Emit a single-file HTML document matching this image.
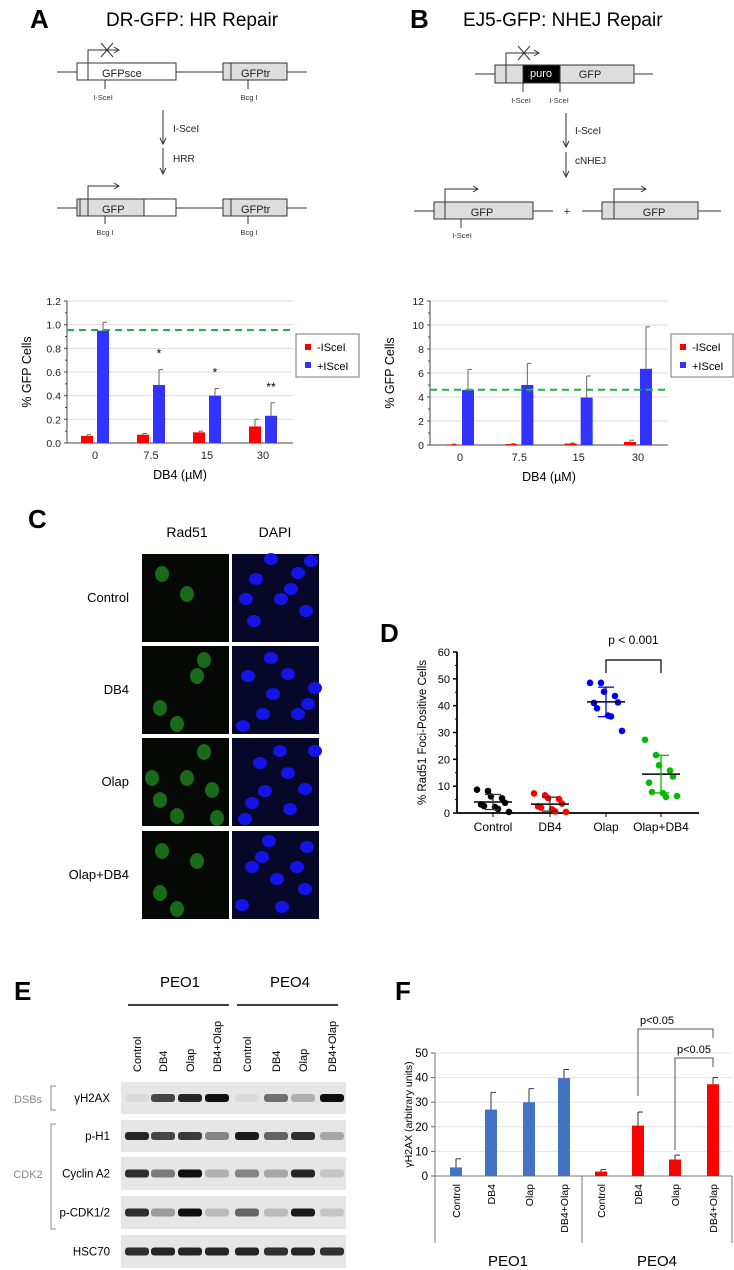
<!DOCTYPE html>
<html><head><meta charset="utf-8">
<style>
html,body{margin:0;padding:0;background:#fff;}
svg{display:block;font-family:"Liberation Sans",Arial,sans-serif;}
</style></head>
<body>
<svg id="fig" width="734" height="1270" viewBox="0 0 734 1270" xmlns="http://www.w3.org/2000/svg">
<!-- Panel A diagram -->
<g stroke="#333" fill="none" font-size="11">
<text x="30" y="28" font-size="26" font-weight="bold" fill="#000" stroke="none">A</text>
<text x="106" y="26" font-size="19" fill="#000" stroke="none">DR-GFP: HR Repair</text>
<line x1="57" y1="72" x2="307" y2="72"/>
<rect x="77" y="63" width="99" height="17" fill="#fff"/>
<line x1="88" y1="63" x2="88" y2="80"/>
<polyline points="88,63 88,50 118,50"/><polyline points="114,47 119,50 114,53"/>
<line x1="101" y1="43" x2="113" y2="57"/><line x1="113" y1="43" x2="101" y2="57"/>
<text x="102" y="77" fill="#222" stroke="none">GFPsce</text>
<line x1="105" y1="80" x2="105" y2="89"/><text x="103" y="100" font-size="7.5" text-anchor="middle" fill="#333" stroke="none">I-SceI</text>
<rect x="223" y="63" width="64" height="17" fill="#ddd"/>
<line x1="231" y1="63" x2="231" y2="80"/>
<text x="241" y="77" fill="#222" stroke="none">GFPtr</text>
<line x1="248" y1="80" x2="248" y2="89"/><text x="249" y="100" font-size="7.5" text-anchor="middle" fill="#333" stroke="none">Bcg I</text>
<line x1="163" y1="110" x2="163" y2="143"/><polyline points="160,138 163,144 166,138"/>
<text x="173" y="132" fill="#222" stroke="none" font-size="10">I-SceI</text>
<line x1="163" y1="148" x2="163" y2="173"/><polyline points="160,168 163,174 166,168"/>
<text x="173" y="162" fill="#222" stroke="none" font-size="10">HRR</text>
<line x1="57" y1="208" x2="307" y2="208"/>
<rect x="77" y="199" width="99" height="17" fill="#fff"/>
<rect x="77" y="199" width="67" height="17" fill="#ddd"/>
<line x1="80" y1="199" x2="80" y2="216"/><line x1="88" y1="199" x2="88" y2="216"/>
<polyline points="88,199 88,186 118,186"/><polyline points="114,183 119,186 114,189"/>
<text x="102" y="213" fill="#222" stroke="none">GFP</text>
<line x1="105" y1="216" x2="105" y2="224"/><text x="105" y="235" font-size="7.5" text-anchor="middle" fill="#333" stroke="none">Bcg I</text>
<rect x="223" y="199" width="64" height="17" fill="#ddd"/>
<line x1="231" y1="199" x2="231" y2="216"/>
<text x="241" y="213" fill="#222" stroke="none">GFPtr</text>
<line x1="248" y1="216" x2="248" y2="224"/><text x="249" y="235" font-size="7.5" text-anchor="middle" fill="#333" stroke="none">Bcg I</text>
</g>
<!-- Panel B diagram -->
<g stroke="#333" fill="none" font-size="11">
<text x="410" y="28" font-size="26" font-weight="bold" fill="#000" stroke="none">B</text>
<text x="463" y="26" font-size="19" fill="#000" stroke="none">EJ5-GFP: NHEJ Repair</text>
<line x1="475" y1="74" x2="653" y2="74"/>
<rect x="495" y="65" width="139" height="18" fill="#ddd"/>
<rect x="523" y="65" width="37" height="18" fill="#000"/>
<line x1="506" y1="65" x2="506" y2="83"/>
<polyline points="506,65 506,53 538,53"/><polyline points="534,50 539,53 534,56"/>
<line x1="518" y1="46" x2="530" y2="60"/><line x1="530" y1="46" x2="518" y2="60"/>
<text x="541" y="77" fill="#fff" stroke="none" text-anchor="middle">puro</text>
<text x="590" y="78" fill="#222" stroke="none" text-anchor="middle">GFP</text>
<line x1="523" y1="83" x2="523" y2="92"/><line x1="560" y1="83" x2="560" y2="92"/>
<text x="521" y="103" font-size="7.5" fill="#333" stroke="none" text-anchor="middle">I-SceI</text>
<text x="559" y="103" font-size="7.5" fill="#333" stroke="none" text-anchor="middle">I-SceI</text>
<line x1="566" y1="113" x2="566" y2="146"/><polyline points="563,141 566,147 569,141"/>
<text x="575" y="134" fill="#222" stroke="none" font-size="10">I-SceI</text>
<line x1="566" y1="152" x2="566" y2="176"/><polyline points="563,171 566,177 569,171"/>
<text x="575" y="164" fill="#222" stroke="none" font-size="10">cNHEJ</text>
<line x1="414" y1="211" x2="553" y2="211"/>
<rect x="434" y="202" width="99" height="17" fill="#ddd"/>
<line x1="445" y1="202" x2="445" y2="219"/>
<polyline points="445,202 445,189 477,189"/><polyline points="473,186 478,189 473,192"/>
<text x="482" y="216" fill="#222" stroke="none" text-anchor="middle">GFP</text>
<line x1="461" y1="219" x2="461" y2="228"/><text x="462" y="238" font-size="7.5" fill="#333" stroke="none" text-anchor="middle">I-SceI</text>
<text x="567" y="215" fill="#222" stroke="none" text-anchor="middle">+</text>
<line x1="582" y1="211" x2="721" y2="211"/>
<rect x="602" y="202" width="96" height="17" fill="#ddd"/>
<line x1="614" y1="202" x2="614" y2="219"/>
<polyline points="614,202 614,189 645,189"/><polyline points="641,186 646,189 641,192"/>
<text x="654" y="216" fill="#222" stroke="none" text-anchor="middle">GFP</text>
</g>
<g id="chartA"></g>
<g id="chartB"></g>
<!-- Panel C -->
<g id="panelC">
<text x="28" y="528" font-size="26" font-weight="bold">C</text>
<text x="187" y="537" font-size="14" text-anchor="middle">Rad51</text>
<text x="275" y="537" font-size="14" text-anchor="middle">DAPI</text>
</g>
<g id="chartD"></g>
<!-- Panel E -->
<g id="panelE">
<text x="14" y="1000" font-size="26" font-weight="bold">E</text>
<text x="180" y="987" font-size="15" text-anchor="middle">PEO1</text>
<text x="290" y="987" font-size="15" text-anchor="middle">PEO4</text>
<line x1="128" y1="1005" x2="229" y2="1005" stroke="#000" stroke-width="1.5"/>
<line x1="237" y1="1005" x2="338" y2="1005" stroke="#000" stroke-width="1.5"/>
<text x="28" y="1103" font-size="11" fill="#888" text-anchor="middle">DSBs</text>
<polyline points="56,1086 51,1086 51,1110 56,1110" stroke="#888" fill="none"/>
<text x="28" y="1178" font-size="11" fill="#888" text-anchor="middle">CDK2</text>
<polyline points="56,1124 51,1124 51,1229 56,1229" stroke="#888" fill="none"/>
</g>
<g id="chartF"></g>
</svg>
<script>
// ---------- DATA ----------
const aCats = ["0","7.5","15","30"];
const aMinus = [0.06,0.07,0.09,0.14];
const aMinusErr = [0.01,0.01,0.01,0.06];
const aPlus = [0.95,0.49,0.40,0.23];
const aPlusErr = [0.07,0.13,0.06,0.11];
const aStars = ["","*","*","**"];
const aTicks = ["0.0","0.2","0.4","0.6","0.8","1.0","1.2"];
const aRef = 0.955;

const bCats = ["0","7.5","15","30"];
const bMinus = [0.05,0.08,0.12,0.25];
const bMinusErr = [0.02,0.03,0.04,0.15];
const bPlus = [4.6,5.0,3.95,6.35];
const bPlusErr = [1.7,1.8,1.8,3.5];
const bTicks = ["0","2","4","6","8","10","12"];
const bRef = 4.6;

const dCats = ["Control","DB4","Olap","Olap+DB4"];
const dControl = [8.7,8.2,6.2,5.5,3.8,3.2,2.6,2.2,1.5,0.4];
const dDB4 = [7.3,6.6,5.6,5.2,3.5,2.5,2.0,1.4,0.6,0.4];
const dOlap = [48.5,48.5,45.2,43.6,41.2,41.0,39.0,36.3,36.0,30.6];
const dOlapDB4 = [27.3,21.6,17.8,15.8,13.6,11.3,7.8,7.4,6.0,6.3];
const dMeans = [4.1,3.3,41.4,14.5];
const dSD = [2.8,2.6,5.5,7.0];
const dTicks = ["0","10","20","30","40","50","60"];

const fCats = ["Control","DB4","Olap","DB4+Olap"];
const fPEO1 = [3.5,27,30,39.8];
const fPEO1Err = [3.5,7,5.5,3.5];
const fPEO4 = [1.8,20.5,6.7,37.3];
const fPEO4Err = [0.8,5.5,1.8,2.7];
const fTicks = ["0","10","20","30","40","50"];

const eLanes = ["Control","DB4","Olap","DB4+Olap","Control","DB4","Olap","DB4+Olap"];
const eRows = ["γH2AX","p-H1","Cyclin A2","p-CDK1/2","HSC70"];
const eBand = [
 [0.05,0.75,0.9,1.0,0.05,0.55,0.25,1.0],
 [0.9,0.75,0.8,0.45,0.95,0.6,0.85,0.3],
 [0.85,0.5,1.0,0.25,0.45,0.3,0.9,0.15],
 [0.85,0.35,1.0,0.2,0.6,0.2,0.95,0.15],
 [0.85,0.9,0.9,0.9,0.9,0.85,0.9,0.85]];

// ---------- HELPERS ----------
const NS="http://www.w3.org/2000/svg";
function mk(parent,tag,attrs,text){const e=document.createElementNS(NS,tag);for(const k in attrs)e.setAttribute(k,attrs[k]);if(text!==undefined)e.textContent=text;parent.appendChild(e);return e;}

// ---------- PANEL A & B ----------
function barChart(g,cfg){
  const {x0,x1,yTop,yBot,max,ticks,cats,cx,minus,minusErr,plus,plusErr,ref,stars,leg}=cfg;
  const ys=v=>yBot-(v/max)*(yBot-yTop);
  ticks.forEach((t,i)=>{const v=max*i/(ticks.length-1);const y=ys(v);
    if(i>0){const gl=mk(g,"line",{x1:x0,x2:x1,y1:y,y2:y,stroke:"#ddd"});}
    mk(g,"line",{x1:x0-3,x2:x0,y1:y,y2:y,stroke:"#444"});
    const tl=mk(g,"text",{x:x0-6,y:y+4,"font-size":10.5,"text-anchor":"end",fill:"#222"},t);
    
    if(i<ticks.length-1){const ym=ys(v+max/(ticks.length-1)/2);mk(g,"line",{x1:x0-2,x2:x0,y1:ym,y2:ym,stroke:"#444"});}
  });
  mk(g,"line",{x1:x0,x2:x0,y1:yTop,y2:yBot,stroke:"#444"});
  mk(g,"line",{x1:x0,x2:x1,y1:yBot,y2:yBot,stroke:"#444"});
  cats.forEach((c,i)=>{
    const c0=cx(i);
    [[minus,minusErr,-8,"#ff0000","bar-minus-iscei"],[plus,plusErr,8,"#3333ff","bar-plus-iscei"]].forEach(([vals,errs,off,col,nm])=>{
      const bx=c0+off-6,y=ys(vals[i]);
      mk(g,"line",{x1:c0+off,x2:c0+off,y1:y,y2:ys(vals[i]+errs[i]),stroke:"#666"});
      mk(g,"line",{x1:c0+off,x2:c0+off+4,y1:ys(vals[i]+errs[i]),y2:ys(vals[i]+errs[i]),stroke:"#666"});
      const r=mk(g,"rect",{x:bx,y:y,width:12,height:yBot-y,fill:col});
      
    });
    if(stars&&stars[i]){const s=mk(g,"text",{x:c0+8,y:ys(plus[i]+plusErr[i])-12,"font-size":12,"text-anchor":"middle"},stars[i]);}
    const xl=mk(g,"text",{x:c0,y:yBot+16,"font-size":11,"text-anchor":"middle",fill:"#222"},c);
    
  });
  const rl=mk(g,"line",{x1:x0,x2:x1,y1:ys(ref),y2:ys(ref),stroke:"#22b14c","stroke-width":2,"stroke-dasharray":"7,5"});
  
  const xt=mk(g,"text",{x:(x0+x1)/2,y:yBot+36,"font-size":12.5,"text-anchor":"middle"},"DB4 (µM)");
  
  const yt=mk(g,"text",{x:0,y:0,"font-size":12.5,"text-anchor":"middle",transform:`translate(${x0-36},${(yTop+yBot)/2}) rotate(-90)`},"% GFP Cells");
  
  const lg=mk(g,"g",{});
  mk(lg,"rect",{x:leg[0],y:leg[1],width:leg[2],height:43,fill:"#fff",stroke:"#777"});
  mk(lg,"rect",{x:leg[0]+9,y:leg[1]+10,width:6,height:6,fill:"#ff0000"});
  mk(lg,"text",{x:leg[0]+21,y:leg[1]+17,"font-size":11},"-ISceI");
  mk(lg,"rect",{x:leg[0]+9,y:leg[1]+28,width:6,height:6,fill:"#3333ff"});
  mk(lg,"text",{x:leg[0]+21,y:leg[1]+36,"font-size":11},"+ISceI");
}
barChart(document.getElementById("chartA"),{x0:67,x1:293,yTop:301,yBot:443,max:1.2,ticks:aTicks,cats:aCats,cx:i=>95+i*(263-95)/3,minus:aMinus,minusErr:aMinusErr,plus:aPlus,plusErr:aPlusErr,ref:aRef,stars:aStars,leg:[296,334,63]});
barChart(document.getElementById("chartB"),{x0:430,x1:668,yTop:301,yBot:445,max:12,ticks:bTicks,cats:bCats,cx:i=>460+i*(638-460)/3,minus:bMinus,minusErr:bMinusErr,plus:bPlus,plusErr:bPlusErr,ref:bRef,stars:null,leg:[671,334,62]});

// ---------- PANEL C ----------
(function(){
  const g=document.getElementById("panelC");
  const rows=["Control","DB4","Olap","Olap+DB4"];
  const rowY=[554,646,738,831];
  const greenCounts=[2,4,7,4];
  const nuc=[[20,20],[62,14],[45,40],[18,62],[70,52],[35,78],[75,80],[55,30],[10,40]];
  rows.forEach((r,i)=>{
    const y=rowY[i];
    const lb=mk(g,"text",{x:129,y:y+48,"font-size":13,"text-anchor":"end"},r);
    
    const rr=mk(g,"rect",{x:142,y:y,width:87,height:88,fill:"#050805"});
    
    for(let k=0;k<greenCounts[i];k++){const p=nuc[(k*2+i)%nuc.length];
      mk(g,"ellipse",{cx:142+p[0],cy:y+p[1],rx:7,ry:8,fill:"#1f8a1f",opacity:0.75});}
    const dr=mk(g,"rect",{x:232,y:y,width:87,height:88,fill:"#07072a"});
    
    nuc.forEach((p,k)=>{mk(g,"ellipse",{cx:232+((p[0]+i*17)%80)+4,cy:y+((p[1]+i*23)%78)+5,rx:7,ry:6,fill:"#1414e6"});});
  });
})();

// ---------- PANEL D ----------
(function(){
  const g=document.getElementById("chartD");
  const x0=457,x1=699,yT=652,yB=813,max=60;
  const ys=v=>yB-(v/max)*(yB-yT);
  const cx=[493,550,606,661];
  const cols=["#000000","#ff0000","#0000ee","#00bb00"];
  const series=[dControl,dDB4,dOlap,dOlapDB4];
  mk(g,"text",{x:380,y:642,"font-size":26,"font-weight":"bold"},"D");
  dTicks.forEach((t,i)=>{const v=i*10;const y=ys(v);
    mk(g,"line",{x1:x0-4,x2:x0,y1:y,y2:y,stroke:"#000","stroke-width":1.5});
    if(i<6)mk(g,"line",{x1:x0-2,x2:x0,y1:ys(v+5),y2:ys(v+5),stroke:"#000"});
    const tl=mk(g,"text",{x:x0-7,y:y+4,"font-size":11,"text-anchor":"end"},t);
    });
  mk(g,"line",{x1:x0,x2:x0,y1:yT,y2:yB,stroke:"#000","stroke-width":1.8});
  mk(g,"line",{x1:x0,x2:x1,y1:yB,y2:yB,stroke:"#000","stroke-width":1.8});
  const yt=mk(g,"text",{x:0,y:0,"font-size":11.5,"text-anchor":"middle",transform:`translate(${x0-31},${(yT+yB)/2}) rotate(-90)`},"% Rad51 Foci-Positive Cells");
  
  dCats.forEach((c,i)=>{
    mk(g,"line",{x1:cx[i],x2:cx[i],y1:yB,y2:yB+4,stroke:"#000"});
    const xl=mk(g,"text",{x:cx[i],y:yB+18,"font-size":12,"text-anchor":"middle"},c);
    
    series[i].forEach((v,k)=>{
      const off=((k%5)-2)*7+((k%2)?2:-2);
      const p=mk(g,"circle",{cx:cx[i]+off,cy:ys(v),r:3.3,fill:cols[i]});
      
    });
    const m=dMeans[i],s=dSD[i],ec=i<2?"#333":cols[i];
    mk(g,"line",{x1:cx[i]-19,x2:cx[i]+19,y1:ys(m),y2:ys(m),stroke:"#000","stroke-width":1.5});
    mk(g,"line",{x1:cx[i],x2:cx[i],y1:ys(m-s),y2:ys(m+s),stroke:ec,"stroke-width":1.3});
    mk(g,"line",{x1:cx[i]-8,x2:cx[i]+8,y1:ys(m+s),y2:ys(m+s),stroke:ec,"stroke-width":1.3});
    mk(g,"line",{x1:cx[i]-8,x2:cx[i]+8,y1:ys(m-s),y2:ys(m-s),stroke:ec,"stroke-width":1.3});
  });
  const br=mk(g,"polyline",{points:`${cx[2]},673 ${cx[2]},660 ${cx[3]},660 ${cx[3]},673`,fill:"none",stroke:"#000","stroke-width":1.2});
  
  mk(g,"text",{x:(cx[2]+cx[3])/2,y:644,"font-size":12,"text-anchor":"middle"},"p < 0.001");
})();

// ---------- PANEL E ----------
(function(){
  const g=document.getElementById("panelE");
  const lx=[137,163,190,217,247,276,303,332];
  const rowsY=[[1082,1114],[1120,1152],[1157,1190],[1196,1229],[1235,1268]];
  eLanes.forEach((l,i)=>{
    const t=mk(g,"text",{x:0,y:0,"font-size":11,transform:`translate(${lx[i]+4},1072) rotate(-90)`},l);
    
  });
  eRows.forEach((r,j)=>{
    const [y0,y1]=rowsY[j];
    const bp=mk(g,"rect",{x:121,y:y0,width:225,height:y1-y0,fill:"#e6e6e6"});
    
    const lb=mk(g,"text",{x:110,y:(y0+y1)/2+4,"font-size":11.5,"text-anchor":"end"},r);
    
    eBand[j].forEach((v,i)=>{
      const c=Math.round(230-215*v);
      const b=mk(g,"rect",{x:lx[i]-12,y:(y0+y1)/2-4,width:24,height:8,rx:3,fill:`rgb(${c},${c},${c})`});
      
    });
  });
})();

// ---------- PANEL F ----------
(function(){
  const g=document.getElementById("chartF");
  const x0=435,x1=732,yT=1053,yB=1176,max=50;
  const ys=v=>yB-(v/max)*(yB-yT);
  const cx1=[456,491,529,564],cx4=[601,638,675,713];
  mk(g,"text",{x:395,y:1000,"font-size":26,"font-weight":"bold"},"F");
  fTicks.forEach((t,i)=>{const v=i*10,y=ys(v);
    if(i>0)mk(g,"line",{x1:x0,x2:x1,y1:y,y2:y,stroke:"#e4e4e4"});
    mk(g,"line",{x1:x0-4,x2:x0,y1:y,y2:y,stroke:"#666"});
    const tl=mk(g,"text",{x:x0-7,y:y+4,"font-size":11.5,"text-anchor":"end"},t);
    });
  mk(g,"line",{x1:x0,x2:x0,y1:yT,y2:1243,stroke:"#777"});
  mk(g,"line",{x1:x0,x2:x1,y1:yB,y2:yB,stroke:"#777"});
  mk(g,"line",{x1:582,x2:582,y1:yB,y2:1243,stroke:"#777"});
  mk(g,"line",{x1:x1,x2:x1,y1:yB,y2:1243,stroke:"#777"});
  const yt=mk(g,"text",{x:0,y:0,"font-size":10.5,"text-anchor":"middle",transform:`translate(${x0-23},${(yT+yB)/2}) rotate(-90)`},"γH2AX (arbitrary units)");
  
  [[fPEO1,fPEO1Err,cx1,"#4472c4","bar-peo1"],[fPEO4,fPEO4Err,cx4,"#ff0000","bar-peo4"]].forEach(([vals,errs,cx,col,nm])=>{
    vals.forEach((v,i)=>{
      const y=ys(v),ye=ys(v+errs[i]);
      mk(g,"line",{x1:cx[i],x2:cx[i],y1:y,y2:ye,stroke:"#333"});
      mk(g,"line",{x1:cx[i],x2:cx[i]+5,y1:ye,y2:ye,stroke:"#333"});
      const r=mk(g,"rect",{x:cx[i]-6,y:y,width:12,height:yB-y,fill:col});
      
      const xl=mk(g,"text",{x:0,y:0,"font-size":10.5,"text-anchor":"end",transform:`translate(${cx[i]+4},${yB+8}) rotate(-90)`},fCats[i]);
      
    });
  });
  const g1=mk(g,"text",{x:508,y:1266,"font-size":15,"text-anchor":"middle"},"PEO1");
  
  const g2=mk(g,"text",{x:657,y:1266,"font-size":15,"text-anchor":"middle"},"PEO4");
  
  const b1=mk(g,"polyline",{points:`${cx4[1]},1096 ${cx4[1]},1029 ${cx4[3]},1029 ${cx4[3]},1038`,fill:"none",stroke:"#555"});
  
  mk(g,"text",{x:640,y:1024,"font-size":11},"p<0.05");
  const b2=mk(g,"polyline",{points:`${cx4[2]},1150 ${cx4[2]},1058 ${cx4[3]},1058 ${cx4[3]},1067`,fill:"none",stroke:"#555"});
  
  mk(g,"text",{x:677,y:1053,"font-size":11},"p<0.05");
})();
</script>
</body></html>
